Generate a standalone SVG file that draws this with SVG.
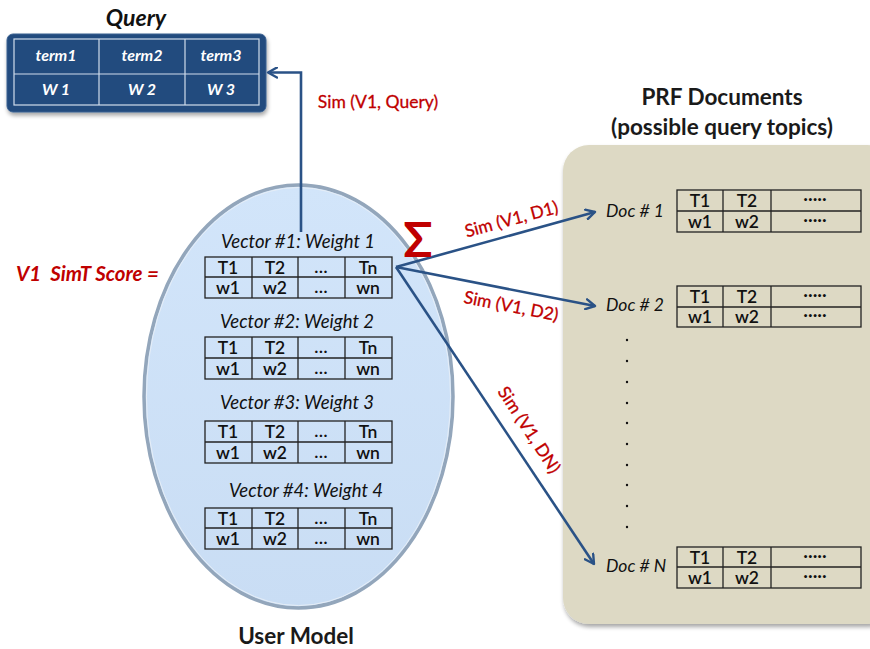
<svg xmlns="http://www.w3.org/2000/svg" width="870" height="649" viewBox="0 0 870 649">
  <defs>
    <marker id="arrow" viewBox="0 0 12 12" refX="10" refY="6" markerWidth="12" markerHeight="12" markerUnits="userSpaceOnUse" orient="auto">
      <path d="M1,1 L10,6 L1,11" fill="none" stroke="#2A5286" stroke-width="2.4" stroke-linecap="round" stroke-linejoin="round"/>
    </marker>
    <filter id="shadow" x="-10%" y="-10%" width="130%" height="130%">
      <feGaussianBlur in="SourceAlpha" stdDeviation="2"/>
      <feOffset dx="1" dy="3" result="b"/>
      <feComponentTransfer><feFuncA type="linear" slope="0.35"/></feComponentTransfer>
      <feMerge><feMergeNode/><feMergeNode in="SourceGraphic"/></feMerge>
    </filter>
    <linearGradient id="ellFill" x1="0" y1="0" x2="0" y2="1">
      <stop offset="0" stop-color="#D2E5FA"/>
      <stop offset="1" stop-color="#C9DDF4"/>
    </linearGradient>
  </defs>
  <style>
    text { font-family: Lato, "Liberation Sans", sans-serif; }
    .cell { fill: none; stroke: #222; stroke-width: 1.3; }
    .ct { font-size: 17.5px; fill: #111; text-anchor: middle; font-weight: 600; }
    .vl { font-size: 18.5px; font-style: italic; fill: #111; text-anchor: middle; }
    .dl { font-size: 17.5px; font-style: italic; fill: #111; }
    .red { fill: #C00000; font-size: 17.5px; text-anchor: middle; stroke: #C00000; stroke-width: 0.3; }
    .conn { fill: none; stroke: #2A5286; stroke-width: 2.6; }
    .qt { fill: #fff; font-size: 16px; font-style: italic; font-weight: bold; text-anchor: middle; }
    .qgrid { fill: none; stroke: #D0DCEB; stroke-width: 1.2; }
    .dot { fill: #111; }
  </style>

  <!-- query table -->
  <g id="query">
    <text x="136" y="26" font-size="23" font-style="italic" font-weight="bold" text-anchor="middle" fill="#111">Query</text>
    <rect x="7" y="34" width="259" height="78" rx="6" fill="#224B7E" stroke="#3A6090" stroke-width="1" filter="url(#shadow)"/>
    <rect class="qgrid" x="14" y="39" width="245" height="66"/>
    <line class="qgrid" x1="14" y1="74" x2="259" y2="74"/>
    <line class="qgrid" x1="99" y1="39" x2="99" y2="105"/>
    <line class="qgrid" x1="185" y1="39" x2="185" y2="105"/>
    <text class="qt" x="56" y="61">term1</text>
    <text class="qt" x="142" y="61">term2</text>
    <text class="qt" x="221" y="61">term3</text>
    <text class="qt" x="56" y="95">W 1</text>
    <text class="qt" x="142" y="95">W 2</text>
    <text class="qt" x="221" y="95">W 3</text>
  </g>

  <!-- PRF documents panel -->
  <g id="prf">
    <text x="722" y="105" font-size="22.5" font-weight="bold" text-anchor="middle" fill="#1a1a1a">PRF Documents</text>
    <text x="722" y="135" font-size="22.5" font-weight="bold" text-anchor="middle" fill="#1a1a1a">(possible query topics)</text>
    <rect x="563" y="145" width="330" height="479" rx="26" fill="#DDD9C4" filter="url(#shadow)"/>
  </g>

  <!-- user model ellipse -->
  <g id="user-model">
    <ellipse cx="298.5" cy="396.5" rx="154.5" ry="211.5" fill="url(#ellFill)" stroke="#93A6BB" stroke-width="3.5"/>
    <ellipse cx="298.5" cy="396.5" rx="152" ry="209" fill="none" stroke="#E6EEF7" stroke-width="1"/>
    <text x="296" y="644" font-size="22.5" font-weight="bold" text-anchor="middle" fill="#1a1a1a">User Model</text>
  </g>

  <g id="score-label">
    <text x="16" y="281" font-size="20.5" font-style="italic" font-weight="bold" fill="#C00000" xml:space="preserve">V1  SimT Score =</text>
  </g>

  <!-- vectors inside the user model -->
  <g id="vector1">
    <text class="vl" x="298" y="248">Vector #1: Weight  1</text>
    <rect class="cell" x="205" y="257" width="187" height="41"/>
    <line class="cell" x1="205" y1="277" x2="392" y2="277"/>
    <line class="cell" x1="252" y1="257" x2="252" y2="298"/>
    <line class="cell" x1="298" y1="257" x2="298" y2="298"/>
    <line class="cell" x1="345" y1="257" x2="345" y2="298"/>
    <text class="ct" x="228" y="274">T1</text><text class="ct" x="275" y="274">T2</text><text class="ct" x="321" y="273">…</text><text class="ct" x="368" y="274">Tn</text>
    <text class="ct" x="228" y="294">w1</text><text class="ct" x="275" y="294">w2</text><text class="ct" x="321" y="293">…</text><text class="ct" x="368" y="294">wn</text>
  </g>
  <g id="vector2">
    <text class="vl" x="297" y="328">Vector #2: Weight  2</text>
    <rect class="cell" x="205" y="337" width="187" height="42"/>
    <line class="cell" x1="205" y1="358" x2="392" y2="358"/>
    <line class="cell" x1="252" y1="337" x2="252" y2="379"/>
    <line class="cell" x1="298" y1="337" x2="298" y2="379"/>
    <line class="cell" x1="345" y1="337" x2="345" y2="379"/>
    <text class="ct" x="228" y="354">T1</text><text class="ct" x="275" y="354">T2</text><text class="ct" x="321" y="353">…</text><text class="ct" x="368" y="354">Tn</text>
    <text class="ct" x="228" y="375">w1</text><text class="ct" x="275" y="375">w2</text><text class="ct" x="321" y="374">…</text><text class="ct" x="368" y="375">wn</text>
  </g>
  <g id="vector3">
    <text class="vl" x="297" y="409">Vector #3: Weight  3</text>
    <rect class="cell" x="205" y="421" width="187" height="42"/>
    <line class="cell" x1="205" y1="442" x2="392" y2="442"/>
    <line class="cell" x1="252" y1="421" x2="252" y2="463"/>
    <line class="cell" x1="298" y1="421" x2="298" y2="463"/>
    <line class="cell" x1="345" y1="421" x2="345" y2="463"/>
    <text class="ct" x="228" y="438">T1</text><text class="ct" x="275" y="438">T2</text><text class="ct" x="321" y="437">…</text><text class="ct" x="368" y="438">Tn</text>
    <text class="ct" x="228" y="459">w1</text><text class="ct" x="275" y="459">w2</text><text class="ct" x="321" y="458">…</text><text class="ct" x="368" y="459">wn</text>
  </g>
  <g id="vector4">
    <text class="vl" x="306" y="497">Vector #4: Weight  4</text>
    <rect class="cell" x="205" y="508" width="187" height="41"/>
    <line class="cell" x1="205" y1="528" x2="392" y2="528"/>
    <line class="cell" x1="252" y1="508" x2="252" y2="549"/>
    <line class="cell" x1="298" y1="508" x2="298" y2="549"/>
    <line class="cell" x1="345" y1="508" x2="345" y2="549"/>
    <text class="ct" x="228" y="525">T1</text><text class="ct" x="275" y="525">T2</text><text class="ct" x="321" y="524">…</text><text class="ct" x="368" y="525">Tn</text>
    <text class="ct" x="228" y="545">w1</text><text class="ct" x="275" y="545">w2</text><text class="ct" x="321" y="544">…</text><text class="ct" x="368" y="545">wn</text>
  </g>

  <!-- documents -->
  <g id="doc1">
    <text class="dl" x="606" y="217">Doc # 1</text>
    <rect class="cell" x="677" y="190" width="184" height="42"/>
    <line class="cell" x1="677" y1="211" x2="861" y2="211"/>
    <line class="cell" x1="723" y1="190" x2="723" y2="232"/>
    <line class="cell" x1="771" y1="190" x2="771" y2="232"/>
    <text class="ct" x="700" y="207">T1</text><text class="ct" x="747" y="207">T2</text><text class="ct" x="815" y="205">·····</text>
    <text class="ct" x="700" y="228">w1</text><text class="ct" x="747" y="228">w2</text><text class="ct" x="815" y="226">·····</text>
  </g>
  <g id="doc2">
    <text class="dl" x="606" y="311">Doc # 2</text>
    <rect class="cell" x="677" y="286" width="184" height="41"/>
    <line class="cell" x1="677" y1="307" x2="861" y2="307"/>
    <line class="cell" x1="723" y1="286" x2="723" y2="327"/>
    <line class="cell" x1="771" y1="286" x2="771" y2="327"/>
    <text class="ct" x="700" y="303">T1</text><text class="ct" x="747" y="303">T2</text><text class="ct" x="815" y="301">·····</text>
    <text class="ct" x="700" y="323">w1</text><text class="ct" x="747" y="323">w2</text><text class="ct" x="815" y="321">·····</text>
  </g>
  <g id="ellipsis-dots">
    <circle class="dot" cx="627" cy="340" r="1.2"/>
    <circle class="dot" cx="627" cy="361" r="1.2"/>
    <circle class="dot" cx="627" cy="382" r="1.2"/>
    <circle class="dot" cx="627" cy="403" r="1.2"/>
    <circle class="dot" cx="627" cy="423" r="1.2"/>
    <circle class="dot" cx="627" cy="444" r="1.2"/>
    <circle class="dot" cx="627" cy="465" r="1.2"/>
    <circle class="dot" cx="627" cy="485" r="1.2"/>
    <circle class="dot" cx="627" cy="506" r="1.2"/>
    <circle class="dot" cx="627" cy="527" r="1.2"/>
  </g>
  <g id="docN">
    <text class="dl" x="606" y="572">Doc # N</text>
    <rect class="cell" x="677" y="547" width="184" height="41"/>
    <line class="cell" x1="677" y1="567" x2="861" y2="567"/>
    <line class="cell" x1="723" y1="547" x2="723" y2="588"/>
    <line class="cell" x1="771" y1="547" x2="771" y2="588"/>
    <text class="ct" x="700" y="564">T1</text><text class="ct" x="747" y="564">T2</text><text class="ct" x="815" y="562">·····</text>
    <text class="ct" x="700" y="584">w1</text><text class="ct" x="747" y="584">w2</text><text class="ct" x="815" y="582">·····</text>
  </g>

  <!-- connectors -->
  <g id="connectors">
    <path class="conn" d="M301,232 L301,72.5 L268,72.5" marker-end="url(#arrow)"/>
    <path class="conn" d="M396,267 L595,212" marker-end="url(#arrow)"/>
    <path class="conn" d="M396,267 L595,306" marker-end="url(#arrow)"/>
    <path class="conn" d="M396,267 L594,564" marker-end="url(#arrow)"/>
  </g>

  <g id="connector-labels">
    <text class="red" x="378" y="108">Sim (V1, Query)</text>
    <text x="418" y="257" font-family="'Liberation Serif', serif" font-size="48" text-anchor="middle" fill="#C00000" font-weight="bold">Σ</text>
    <text class="red" transform="translate(513,225) rotate(-15)">Sim (V1, D1)</text>
    <text class="red" transform="translate(510,312) rotate(11)">Sim (V1, D2)</text>
    <text class="red" transform="translate(524,433) rotate(57)">Sim (V1, DN)</text>
  </g>
</svg>
